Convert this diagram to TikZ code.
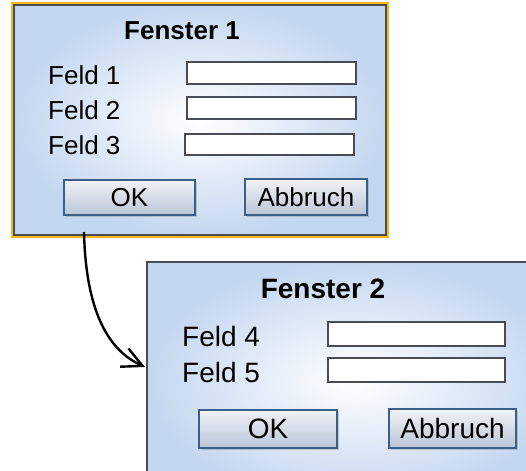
\documentclass[tikz,border=0pt]{standalone}
\usepackage{fontspec}
\setmainfont{Liberation Sans}
\usetikzlibrary{shadows,arrows.meta}

\definecolor{fensterblau}{RGB}{196,215,240}
\definecolor{rahmengrau}{RGB}{72,76,86}
\definecolor{fenstergold}{RGB}{248,184,20}
\definecolor{knopfrand}{RGB}{60,95,135}
\definecolor{knopfoben}{RGB}{240,242,246}
\definecolor{knopfunten}{RGB}{186,198,215}

\begin{document}
\begin{tikzpicture}[x=1pt, y=-1pt,
    fenster/.style={rectangle, draw=rahmengrau, line width=1.5pt, inner sep=0pt, outer sep=0pt,
        inner color=white, outer color=fensterblau,
        drop shadow={shadow xshift=2pt, shadow yshift=-2pt, opacity=0.25}},
    feldbox/.style={rectangle, draw=rahmengrau, line width=1.3pt, fill=white, inner sep=0pt},
    knopf/.style={rectangle, draw=knopfrand, line width=1.3pt, inner sep=0pt,
        top color=knopfoben, bottom color=knopfunten,
        drop shadow={shadow xshift=1.5pt, shadow yshift=-1.5pt, opacity=0.35}},
    titel/.style={anchor=base, inner sep=0pt, font=\bfseries\fontsize{#1}{30}\selectfont},
    beschriftung/.style={anchor=base west, inner sep=0pt, font=\fontsize{#1}{30}\selectfont},
    pfeil/.style={line width=2.4pt, -{Straight Barb[length=20pt, width=20pt]}}]

    \useasboundingbox (0,0) rectangle (526,470);
    \clip (0,0) rectangle (526,470);

    % Fenster 1
    \node[fenster, preaction={draw=fenstergold, line width=6pt},
        minimum width=372pt, minimum height=230pt] (fenster1) at (200,120) {};
    \node[titel=26] (titel1) at (182,40) {Fenster 1};

    \node[beschriftung=26] (feld1) at (48,85) {Feld 1};
    \node[beschriftung=26] (feld2) at (48,119.5) {Feld 2};
    \node[beschriftung=26] (feld3) at (48,155) {Feld 3};

    \node[feldbox, minimum width=169pt, minimum height=22pt] (box1) at (271.5,73) {};
    \node[feldbox, minimum width=169pt, minimum height=22pt] (box2) at (271.5,108) {};
    \node[feldbox, minimum width=169pt, minimum height=21pt] (box3) at (269.5,144.5) {};

    \node[knopf, minimum width=131pt, minimum height=35pt, font=\fontsize{26}{30}\selectfont] (ok1) at (129.5,197.5) {OK};
    \node[knopf, minimum width=122pt, minimum height=36pt, font=\fontsize{26}{30}\selectfont] (abbruch1) at (306,197) {Abbruch};

    % Fenster 2
    \node[fenster, minimum width=413pt, minimum height=238pt] (fenster2) at (353.5,381) {};
    \node[titel=28] (titel2) at (323,298) {Fenster 2};

    \node[beschriftung=28] (feld4) at (182,346) {Feld 4};
    \node[beschriftung=28] (feld5) at (182,382) {Feld 5};

    \node[feldbox, minimum width=177pt, minimum height=24pt] (box4) at (416.5,334) {};
    \node[feldbox, minimum width=177pt, minimum height=24pt] (box5) at (416.5,370) {};

    \node[knopf, minimum width=138pt, minimum height=38pt, font=\fontsize{28}{32}\selectfont] (ok2) at (268,429) {OK};
    \node[knopf, minimum width=127pt, minimum height=39pt, font=\fontsize{28}{32}\selectfont] (abbruch2) at (452.5,428.5) {Abbruch};

    % Uebergang
    \coordinate (pfeilanfang) at (84,232);
    \coordinate (pfeilende) at (145,367);
    \draw[pfeil] (pfeilanfang) .. controls (86,318) and (112,352) .. (pfeilende);

\end{tikzpicture}
\end{document}
